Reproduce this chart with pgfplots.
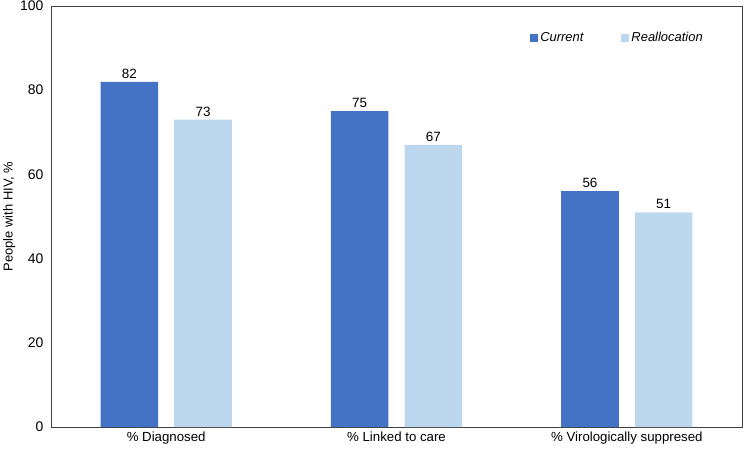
\documentclass[border=0pt]{standalone}
\usepackage{fontspec}
\setmainfont{Liberation Sans}
\usepackage{pgfplots}
\pgfplotsset{compat=1.18}
\definecolor{cur}{HTML}{4472C4}
\definecolor{rea}{HTML}{BDD7EE}
\definecolor{axc}{HTML}{404040}
\begin{document}
\begin{tikzpicture}
\useasboundingbox (-51bp,-24bp) rectangle (699bp,427bp);
\begin{axis}[
  at={(0,0)}, anchor=south west,
  scale only axis,
  width=691bp, height=421bp,
  xmin=-0.5, xmax=2.5,
  ymin=0, ymax=100,
  ybar,
  ytick={0,20,40,60,80,100},
  xtick={0,1,2},
  xticklabels={\% Diagnosed,\% Linked to care,\% Virologically suppresed},
  major tick length=0pt,
  /pgf/number format/assume math mode=true,
  axis line style={axc, line width=0.8pt},
  tick label style={font=\fontsize{14}{16}\selectfont},
  yticklabel style={xshift=-4bp},
  xticklabel style={font=\fontsize{13.3}{16}\selectfont, yshift=-1bp},
  ylabel={People with HIV, \%},
  ylabel style={font=\fontsize{13}{16}\selectfont, yshift=-2bp},
  bar width=0.25,
  legend style={draw=none, fill=none, at={(0.689,0.925)}, anchor=west,
    font=\itshape\fontsize{13}{16}\selectfont, legend columns=2,
    /tikz/every even column/.append style={column sep=36bp}},
  legend image code/.code={\fill[#1] (0bp,-4bp) rectangle (8bp,4bp);},
  nodes near coords,
  every node near coord/.append style={font=\fontsize{13.5}{16}\selectfont, text=black, yshift=0bp},
]
\addplot[bar shift=-0.16, fill=cur, draw=none] coordinates {(0,82) (1,75) (2,56)};
\addlegendentry{Current}
\addplot[bar shift=0.16, fill=rea, draw=none] coordinates {(0,73) (1,67) (2,51)};
\addlegendentry{Reallocation}
\end{axis}
\end{tikzpicture}
\end{document}
